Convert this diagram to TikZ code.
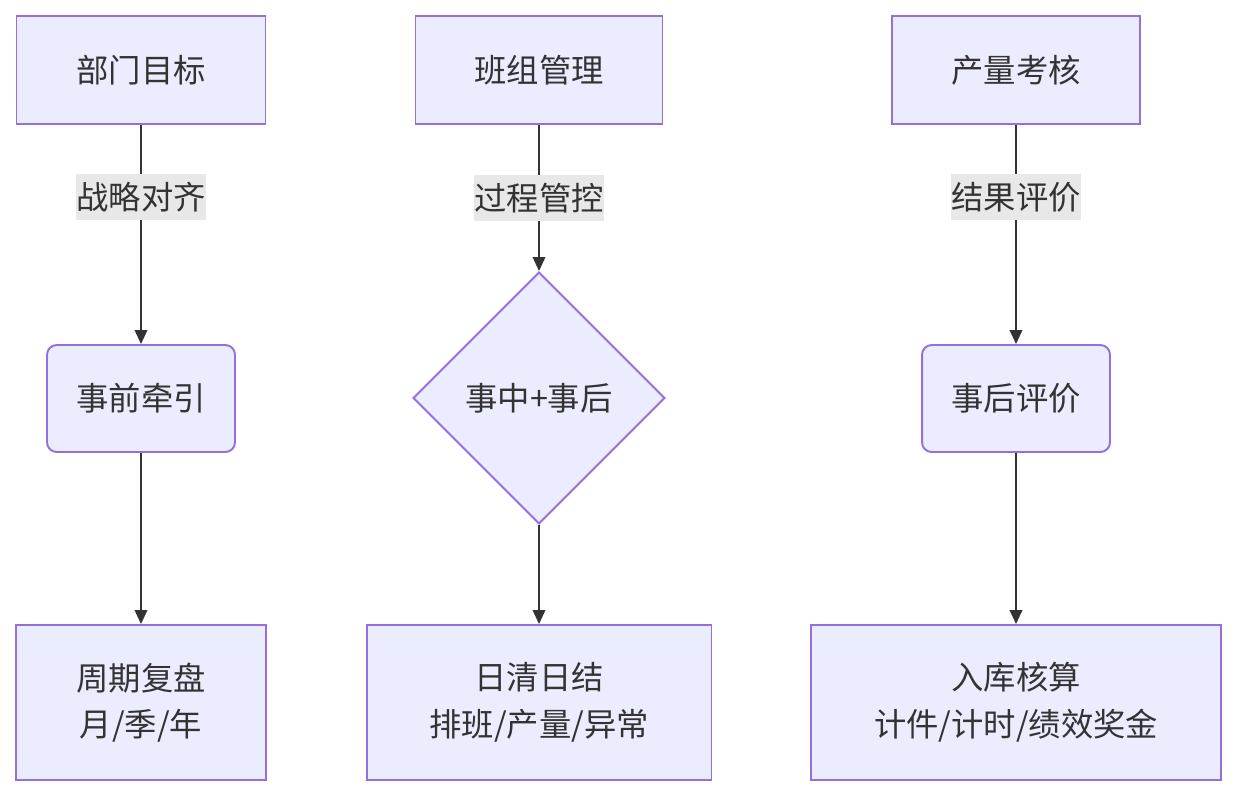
\documentclass[tikz,border=0pt]{standalone}
\usepackage{fontspec}
\setmainfont{Noto Sans CJK SC}
\usetikzlibrary{arrows.meta,shapes.geometric}
\definecolor{boxfill}{HTML}{ECECFF}
\definecolor{boxline}{HTML}{9370DB}
\definecolor{ink}{HTML}{333333}
\definecolor{tagfill}{HTML}{E8E8E8}
\tikzset{
  stepbox/.style={
    draw=boxline,
    line width=1.1pt,
    fill=boxfill,
    text=ink,
    inner sep=0pt,
    align=center,
    font=\fontsize{18.4}{26.6}\selectfont
  },
  roundbox/.style={
    stepbox,
    rounded corners=5.5pt
  },
  choicebox/.style={
    stepbox,
    diamond,
    aspect=1,
    minimum width=5.04cm,
    minimum height=5.04cm
  },
  edgetag/.style={
    fill=tagfill,
    text=ink,
    inner xsep=0pt,
    inner ysep=0.16cm,
    font=\fontsize{18.4}{22}\selectfont
  },
  flowarrow/.style={-{Triangle[length=0.28cm,width=0.25cm]},line width=1.1pt,draw=ink}
}

\begin{document}
\begin{tikzpicture}[x=0.02cm,y=-0.02cm]
\useasboundingbox (0,0) rectangle (1236,796);
\node[stepbox,minimum width=4.98cm,minimum height=2.16cm] (goal) at (141,70) {部门目标};
\node[roundbox,minimum width=3.76cm,minimum height=2.14cm] (lead) at (141,398.5) {事前牵引};
\node[stepbox,minimum width=5cm,minimum height=3.1cm] (review) at (141,702.5) {周期复盘\\月/季/年};
\node[stepbox,minimum width=4.94cm,minimum height=2.16cm] (team) at (539,70) {班组管理};
\node[choicebox] (midpost) at (539,398) {事中+事后};
\node[stepbox,minimum width=6.9cm,minimum height=3.1cm] (daily) at (539,702.5) {日清日结\\排班/产量/异常};
\node[stepbox,minimum width=4.96cm,minimum height=2.16cm] (output) at (1016,70) {产量考核};
\node[roundbox,minimum width=3.76cm,minimum height=2.14cm] (after) at (1016,398.5) {事后评价};
\node[stepbox,minimum width=8.2cm,minimum height=3.1cm] (stock) at (1016,702.5) {入库核算\\计件/计时/绩效奖金};
\draw[flowarrow] (goal) -- node[edgetag,pos=0.33] {战略对齐} (lead);
\draw[flowarrow] (lead) -- (review);
\draw[flowarrow] (team) -- node[edgetag,pos=0.5] {过程管控} (midpost);
\draw[flowarrow] (midpost) -- (daily);
\draw[flowarrow] (output) -- node[edgetag,pos=0.33] {结果评价} (after);
\draw[flowarrow] (after) -- (stock);
\end{tikzpicture}
\end{document}
